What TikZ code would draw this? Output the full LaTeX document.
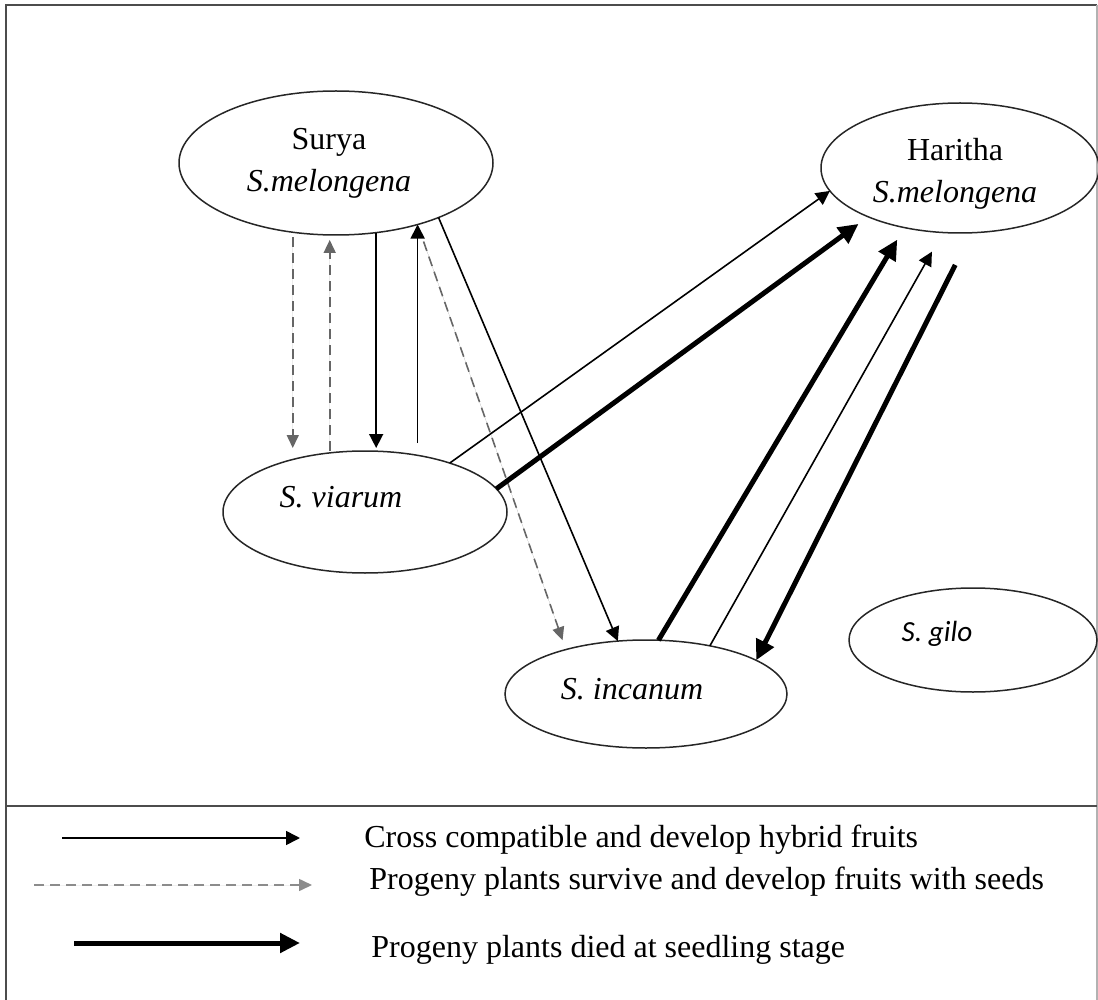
\documentclass[tikz,border=0pt]{standalone}
\usepackage{fontspec}
\setmainfont{Liberation Serif}
\newfontfamily\calibrifont{Carlito}
\usetikzlibrary{shapes.geometric,arrows.meta}

\begin{document}
\begin{tikzpicture}[x=0.5pt, y=-0.5pt,
  plant/.style={ellipse, draw=black!85, line width=0.75pt, inner sep=0pt, outer sep=0pt},
  plantname/.style={font=\fontsize{16}{21}\selectfont, align=center, inner sep=0pt},
  keytext/.style={font=\fontsize{16}{21}\selectfont, anchor=west, inner sep=0pt},
  cross/.style={-{Triangle[length=7pt,width=7pt]}, line width=0.8pt},
  survive/.style={-{Triangle[length=6.5pt,width=6pt]}, draw=black!60, fill=black!60,
    line width=0.8pt, dash pattern=on 5pt off 3pt},
  died/.style={-{Triangle[length=10pt,width=9.5pt]}, line width=2.5pt}]

  \useasboundingbox (0,0) rectangle (1098,1000);

  % frame and the line above the key
  \draw[draw=black!70, line width=1pt] (6,1004) |- (1097,5);
  \draw[draw=black!30, line width=0.8pt] (1097,5) -- (1097,1004);
  \draw[draw=black!70, line width=1pt] (6,806) -- (1097,806);

  % the five plants
  \node[plant, minimum width=157pt, minimum height=72pt] (surya) at (336,163) {};
  \node[plant, minimum width=139pt, minimum height=65pt] (haritha) at (960,168) {};
  \node[plant, minimum width=142pt, minimum height=61pt] (viarum) at (365,512) {};
  \node[plant, minimum width=141pt, minimum height=54pt] (incanum) at (646,694) {};
  \node[plant, minimum width=124pt, minimum height=52pt] (gilo) at (973,640) {};

  \node[plantname] (suryaname) at (329,163) {Surya\\\textit{S.melongena}};
  \node[plantname] (harithaname) at (955,174) {Haritha\\\textit{S.melongena}};
  \node[plantname] (viarumname) at (341,497) {\textit{S. viarum}};
  \node[plantname] (incanumname) at (632,689) {\textit{S. incanum}};
  \node[font=\calibrifont\itshape\fontsize{14.6}{18}\selectfont, inner sep=0pt] (giloname) at (937,634) {S. gilo};

  % Surya and S. viarum
  \draw[survive, shorten <=2.5pt, shorten >=1.5pt] (surya.-122) -- (surya.-122 |- viarum.north);
  \draw[survive, shorten >=2.5pt] (surya.-95 |- viarum.north) -- (surya.-95);
  \draw[cross, shorten >=1.5pt] (surya.-60) -- (surya.-60 |- viarum.north);

  % Surya to S. incanum
  \draw[survive, shorten <=9pt, shorten >=5pt] (surya.-37) -- (incanum.151);
  \draw[cross] (surya.-28) -- (incanum.118);
  \draw[cross, shorten <=4pt] (surya.-37 |- viarum.north) -- (surya.-37);

  % crosses with Haritha
  \draw[cross] (viarum.30) -- (haritha.190);
  \draw[died, shorten >=6pt] (viarum.10) -- (haritha.208);
  \draw[died, shorten >=7pt] (incanum.77) -- (haritha.227);
  \draw[cross, shorten >=11pt] (incanum.37) -- (haritha.255);
  \draw[died, shorten <=18pt] (haritha.280) -- (incanum.17);

  % key
  \coordinate (crossA) at (62,838);
  \coordinate (crossB) at (300,838);
  \coordinate (surviveA) at (34,885);
  \coordinate (surviveB) at (312,885);
  \coordinate (diedA) at (74,943);
  \coordinate (diedB) at (300,943);
  \draw[cross] (crossA) -- (crossB);
  \draw[survive, draw=black!45, fill=black!45] (surviveA) -- (surviveB);
  \draw[died] (diedA) -- (diedB);
  \node[keytext] (crosstext) at (364,840) {Cross compatible and develop hybrid fruits};
  \node[keytext] (survivetext) at (369,882) {Progeny plants survive and develop fruits with seeds};
  \node[keytext] (diedtext) at (371,950) {Progeny plants died at seedling stage};
\end{tikzpicture}
\end{document}
